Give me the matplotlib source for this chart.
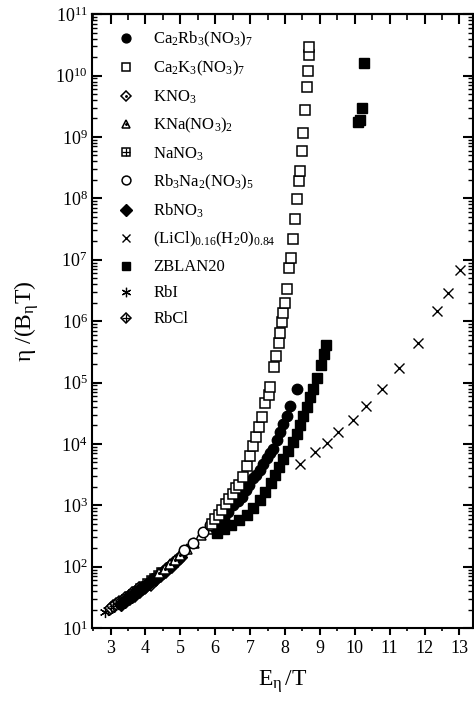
import matplotlib
matplotlib.use('Agg')
import matplotlib.pyplot as plt
import numpy as np
from matplotlib.ticker import LogLocator, MultipleLocator, NullFormatter
from matplotlib.legend_handler import HandlerTuple

plt.rcParams['font.family'] = 'serif'
plt.rcParams['font.serif'] = ['Liberation Serif', 'DejaVu Serif']
plt.rcParams['mathtext.fontset'] = 'custom'
plt.rcParams['mathtext.rm'] = 'Liberation Serif'
plt.rcParams['mathtext.it'] = 'Liberation Serif'
plt.rcParams['mathtext.default'] = 'regular'

# Data (x = E_eta/T, y = eta/(B_eta T))
ca2rb3_x = [6.10, 6.25, 6.38, 6.52, 6.65, 6.76, 6.88, 6.98, 7.09, 7.18, 7.28,
            7.38, 7.48, 7.56, 7.65, 7.76, 7.86, 7.95, 8.05, 8.14, 8.35]
ca2rb3_y = [525, 631, 776, 1000, 1200, 1380, 1780, 2140, 2750, 3160, 3800,
            4680, 5890, 7080, 8320, 1.15e4, 1.58e4, 2.09e4, 2.82e4, 4.17e4, 7.76e4]

ca2k3_x = [5.90, 6.00, 6.10, 6.20, 6.30, 6.40, 6.50, 6.60, 6.69, 6.80, 6.90,
           6.99, 7.09, 7.17, 7.26, 7.34, 7.43, 7.53, 7.57, 7.68, 7.75, 7.83,
           7.87, 7.91, 7.95, 8.01, 8.06, 8.11, 8.16, 8.22, 8.29, 8.34, 8.40,
           8.43, 8.48, 8.53, 8.58, 8.62, 8.66, 8.68, 8.70]
ca2k3_y = [501, 589, 708, 851, 1050, 1260, 1510, 1910, 2140, 2880, 4370,
           6310, 9330, 1.32e4, 1.86e4, 2.75e4, 4.57e4, 6.17e4, 8.51e4, 1.82e5,
           2.69e5, 4.37e5, 6.31e5, 9.77e5, 1.35e6, 1.95e6, 3.39e6, 7.41e6,
           1.05e7, 2.14e7, 4.57e7, 9.77e7, 1.91e8, 2.82e8, 5.89e8, 1.17e9,
           2.75e9, 6.46e9, 1.17e10, 2.14e10, 2.95e10]

kno3_x = [3.55, 3.70, 3.85, 4.00, 4.15, 4.30, 4.45, 4.60, 4.75]
kno3_y = [29.5, 33.9, 38.9, 44.7, 51.3, 60.3, 70.8, 83.2, 97.7]

kna_x = [4.40, 4.55, 4.70, 4.85, 5.00, 5.20, 5.40, 5.60, 5.80, 6.00]
kna_y = [79.4, 93.3, 110, 129, 155, 195, 245, 324, 417, 562]

nano3_x = [3.35, 3.45, 3.55, 3.65, 3.75, 3.85, 3.95, 4.05, 4.15, 4.25, 4.35, 4.45]
nano3_y = [26.9, 29.5, 33.1, 36.3, 39.8, 44.7, 49.0, 53.7, 60.3, 66.1, 74.1, 81.3]

rb3na2_x = [5.10, 5.35, 5.65, 5.85, 6.04, 6.18]
rb3na2_y = [186, 240, 372, 479, 617, 741]

rbno3_x = [3.30, 3.40, 3.50, 3.60, 3.70, 3.80, 3.90, 4.00, 4.10, 4.20, 4.30,
           4.40, 4.50, 4.60, 4.70, 4.80, 4.90, 5.00]
rbno3_y = [25.1, 27.5, 30.9, 33.9, 37.2, 40.7, 44.7, 49.0, 53.7, 60.3, 66.1,
           74.1, 81.3, 91.2, 102, 115, 129, 145]

licl_x = [8.43, 8.86, 9.20, 9.53, 9.94, 10.32, 10.77, 11.28, 11.80, 12.37, 12.66, 13.02]
licl_y = [4790, 7410, 1.05e4, 1.55e4, 2.45e4, 4.17e4, 7.76e4, 1.70e5, 4.47e5,
          1.48e6, 2.88e6, 6.76e6]

zblan_x = [6.05, 6.25, 6.45, 6.69, 6.90, 7.09, 7.28, 7.44, 7.59, 7.71, 7.83,
           7.95, 8.10, 8.22, 8.34, 8.43, 8.53, 8.62, 8.72, 8.81, 8.91, 9.02,
           9.12, 9.18, 10.10, 10.16, 10.20, 10.27]
zblan_y = [355, 417, 479, 575, 692, 891, 1230, 1660, 2290, 3090, 4170, 5750,
           7760, 1.07e4, 1.45e4, 2.0e4, 2.88e4, 4.07e4, 5.75e4, 7.94e4, 1.17e5,
           1.91e5, 2.88e5, 4.07e5, 1.78e9, 1.91e9, 2.95e9, 1.58e10]

rbi_x = [2.85, 2.92, 2.98, 3.05, 3.12, 3.20, 3.28]
rbi_y = [18.2, 19.5, 20.4, 21.9, 23.4, 25.1, 26.9]

rbcl_x = [3.00, 3.08, 3.16, 3.24, 3.32, 3.42, 3.52, 3.62, 3.72, 3.82]
rbcl_y = [21.4, 22.9, 24.5, 26.3, 28.2, 30.9, 33.9, 37.2, 40.7, 44.7]

labels = ['Ca$_2$Rb$_3$(NO$_3$)$_7$', 'Ca$_2$K$_3$(NO$_3$)$_7$', 'KNO$_3$',
          'KNa(NO$_3$)$_2$', 'NaNO$_3$', 'Rb$_3$Na$_2$(NO$_3$)$_5$', 'RbNO$_3$',
          '(LiCl)$_{0.16}$(H$_2$0)$_{0.84}$', 'ZBLAN20', 'RbI', 'RbCl']

fig = plt.figure(figsize=(4.74, 7.09), dpi=100)
ax = fig.add_axes([0.195, 0.114, 0.803, 0.866])

ms = 7
ow = dict(ls='none', mfc='white', mec='k', mew=1.1)
fk = dict(ls='none', color='k')
dot = dict(ls='none', marker='.', ms=2.5, color='k')

h_rbi, = ax.plot(rbi_x, rbi_y, marker=(6, 2, 0), ms=ms + 1, mew=0.9, **fk)
h_rbcl1, = ax.plot(rbcl_x, rbcl_y, marker='D', ms=ms - 1, **ow)
h_rbcl2, = ax.plot(rbcl_x, rbcl_y, marker='+', ms=ms - 1, mew=0.9, **fk)
h_na1, = ax.plot(nano3_x, nano3_y, marker='s', ms=ms - 1, **ow)
h_na2, = ax.plot(nano3_x, nano3_y, marker='+', ms=ms - 1, mew=0.9, **fk)
h_k1, = ax.plot(kno3_x, kno3_y, marker='D', ms=ms - 1, **ow)
h_k2, = ax.plot(kno3_x, kno3_y, **dot)
h_rbno3, = ax.plot(rbno3_x, rbno3_y, marker='D', ms=ms + 0.5, **fk)
h_kna1, = ax.plot(kna_x, kna_y, marker='^', ms=ms, **ow)
h_kna2, = ax.plot(kna_x, kna_y, **dot)
h_zb, = ax.plot(zblan_x, zblan_y, marker='s', ms=ms, **fk)
h_rb3, = ax.plot(rb3na2_x, rb3na2_y, marker='o', ms=ms + 0.5, **ow)
h_ca2rb, = ax.plot(ca2rb3_x, ca2rb3_y, marker='o', ms=ms + 0.5, **fk)
h_ca2k, = ax.plot(ca2k3_x, ca2k3_y, marker='s', ms=ms, **ow)
h_li, = ax.plot(licl_x, licl_y, marker='x', ms=ms, mew=1.0, **fk)

ax.set_yscale('log')
ax.set_xlim(2.48, 13.39)
ax.set_ylim(10, 1e11)

ax.xaxis.set_major_locator(MultipleLocator(1))
ax.xaxis.set_minor_locator(MultipleLocator(0.5))
ax.yaxis.set_major_locator(LogLocator(base=10, numticks=20))
ax.yaxis.set_minor_locator(LogLocator(base=10, subs=np.arange(2, 10), numticks=100))
ax.yaxis.set_minor_formatter(NullFormatter())

for s in ax.spines.values():
    s.set_linewidth(1.5)

ax.tick_params(axis='y', which='both', direction='in', left=True, right=True, labelsize=13)
ax.tick_params(axis='y', which='major', length=7, width=1.5)
ax.tick_params(axis='y', which='minor', length=3.5, width=1.0)
ax.tick_params(axis='x', which='both', direction='out', top=False, labelsize=13)
ax.tick_params(axis='x', which='major', length=5, width=1.5)
ax.tick_params(axis='x', which='minor', length=2.5, width=1.2)

top = ax.secondary_xaxis('top')
top.xaxis.set_major_locator(MultipleLocator(1))
top.xaxis.set_minor_locator(MultipleLocator(0.5))
top.tick_params(which='both', direction='in', labeltop=False)
top.tick_params(which='major', length=7, width=1.5)
top.tick_params(which='minor', length=4, width=1.2)
top.spines['top'].set_linewidth(1.5)

ax.set_xlabel(r'$E_{\eta}\,/T$', fontsize=17, labelpad=8)
ax.set_ylabel(r'$\eta\ /(B_{\eta}T)$', fontsize=17, labelpad=10)

handles = [h_ca2rb, h_ca2k, (h_k1, h_k2), (h_kna1, h_kna2), (h_na1, h_na2), h_rb3,
           h_rbno3, h_li, h_zb, h_rbi, (h_rbcl1, h_rbcl2)]
ax.legend(handles, labels, loc='upper left', bbox_to_anchor=(0.05, 0.985),
          frameon=False, fontsize=12, handlelength=1.0, handletextpad=1.1,
          labelspacing=0.6, borderaxespad=0, markerscale=0.85,
          handler_map={tuple: HandlerTuple(ndivide=1)})

fig.savefig('out.png', dpi=100)
